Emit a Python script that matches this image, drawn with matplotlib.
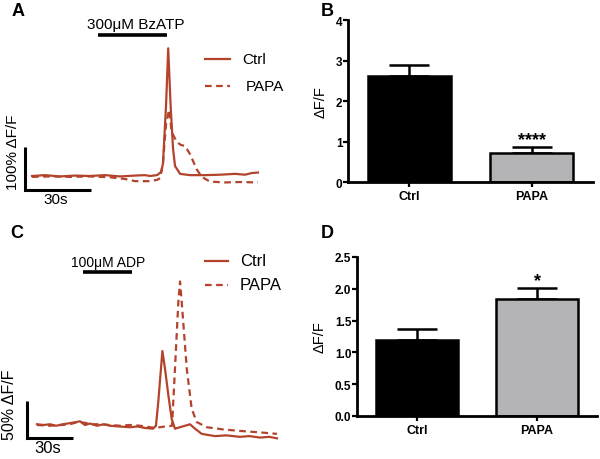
import numpy as np
import matplotlib
matplotlib.use("Agg")
import matplotlib.pyplot as plt
from matplotlib.lines import Line2D

# figure size in pixels (dpi 100)
W, H = 600, 460
TRACE = "#b4432c"

plt.rcParams["font.family"] = ["Liberation Sans", "DejaVu Sans"]

# ---- panel A: BzATP response, time (s) vs dF/F (%)
a_ctrl_t = [3.2, 9.1, 15.9, 22.7, 29.5, 36.4, 43.2, 50.0, 54.5, 56.8, 60.0, 61.8, 62.7,
            64.1, 65.1, 66.2, 67.3, 68.2, 70.5, 75.0, 81.8, 88.6, 95.5, 100.0, 103.2, 105.9]
a_ctrl_v = [0, 2, -1, 1, 0, 2, -1, 1, 2, 0, 2, 9, 28,
            163, 297, 163, 63, 23, 5, 2, 2, 3, 5, 3, 7, 8]
a_papa_t = [3.2, 11.4, 20.5, 29.5, 38.6, 45.5, 50.0, 56.8, 60.0, 61.4, 62.7, 64.1, 65.5,
            66.7, 69.0, 70.9, 72.7, 75.0, 78.0, 80.3, 84.1, 90.9, 97.7, 105.9]
a_papa_v = [-2, -1, -2, -1, -3, -7, -12, -12, -9, -5, 28, 121, 154,
            102, 79, 72, 70, 51, 16, -2, -13, -15, -14, -15]
a_stim = (33.2, 64.5)

# ---- panel C: ADP response
c_ctrl_t = [6.5, 11.0, 15.0, 19.0, 23.5, 29.4, 34.6, 37.8, 41.0, 45.7, 50.0, 54.1, 60.0, 67.2,
            72.0, 77.0, 82.2, 84.1, 85.6, 88.3, 90.0, 92.2, 94.4, 96.5, 99.8, 106.3, 109.6,
            114.0, 122.6, 130.0, 138.9, 145.0, 152.0, 158.0, 163.0]
c_ctrl_v = [1, 0, 1, -1, 1, 3, 5, 0, 2, -1, 1, -1, -2, -3,
            -2, -4, -5, -1, 31, 100, 76, 40, 8, -5, -3, 1, -5,
            -12, -15, -14, -16, -15, -17, -16, -18]
c_papa_t = [6.5, 15.0, 22.0, 28.0, 33.0, 37.8, 42.0, 47.6, 54.0, 60.7, 67.0, 73.7, 83.5,
            90.0, 94.6, 96.5, 98.7, 99.8, 100.9, 104.2, 107.4, 110.7, 117.2, 128.0, 139.0,
            152.0, 163.0]
c_papa_v = [0, -1, 0, 1, 4, 3, 1, 1, 0, -1, 0, -1, -4,
            -2, -1, 76, 166, 194, 166, 76, 22, 4, -3, -6, -8,
            -10, -12]
c_stim = (36.5, 68.5)

# ---- panels B and D: peak dF/F, mean + SEM
groups = ["Ctrl", "PAPA"]
b_mean = [2.62, 0.72]
b_sem = [0.27, 0.14]
d_mean = [1.19, 1.84]
d_sem = [0.18, 0.17]
bar_colors = ["black", "#b4b4b7"]


def px_axes(fig, x0, y0, x1, y1):
    # axes from a pixel box (origin top-left)
    return fig.add_axes([x0 / W, 1 - y1 / H, (x1 - x0) / W, (y1 - y0) / H])


def ftext(fig, x, y, s, **kw):
    fig.text(x / W, 1 - y / H, s, **kw)


def fline(fig, x0, x1, y, **kw):
    fig.add_artist(Line2D([x0 / W, x1 / W], [1 - y / H, 1 - y / H],
                          transform=fig.transFigure, **kw))


def trace_panel(fig, box, org, scale, ctrl, papa, stim, stim_y, bar_v):
    # box: pixel box, org: pixel of (t=0, v=0), scale: px per s and px per %
    x0, y0, x1, y1 = box
    ax = px_axes(fig, *box)
    ax.set_xlim((x0 - org[0]) / scale[0], (x1 - org[0]) / scale[0])
    ax.set_ylim((org[1] - y1) / scale[1], (org[1] - y0) / scale[1])
    ax.axis("off")
    ax.plot(ctrl[0], ctrl[1], color=TRACE, lw=1.6, solid_joinstyle="round")
    ax.plot(papa[0], papa[1], color=TRACE, lw=1.6, dashes=(3, 2))
    # drug application bar
    ax.plot(stim, [stim_y, stim_y], color="black", lw=2.6, solid_capstyle="butt")
    # scale bar: 30 s and bar_v %
    v0 = bar_v[0]
    ax.plot([0, 0, 30], [v0 + bar_v[1], v0, v0], color="black", lw=2.2,
            solid_joinstyle="miter", solid_capstyle="butt")
    return ax


def bar_panel(fig, box, means, sems, ymax, yticks, ylabels, star):
    ax = px_axes(fig, *box)
    x = np.arange(len(groups))
    ax.bar(x, means, width=0.68, color=bar_colors, edgecolor="black", linewidth=1.8, zorder=2)
    ax.errorbar(x, means, yerr=[np.zeros(len(x)), sems], fmt="none", ecolor="black",
                elinewidth=1.8, capsize=14.5, capthick=1.8, zorder=1)
    ax.set_xlim(-0.5, 1.5)
    ax.set_ylim(0, ymax)
    ax.set_yticks(yticks)
    ax.set_yticklabels(ylabels, fontsize=8.5, fontweight="bold")
    ax.set_xticks(x)
    ax.set_xticklabels(groups, fontsize=9, fontweight="bold")
    for s in ["top", "right"]:
        ax.spines[s].set_visible(False)
    for s in ["left", "bottom"]:
        ax.spines[s].set_linewidth(2)
    ax.tick_params(axis="y", direction="out", length=3.5, width=1.6, pad=0.5)
    ax.tick_params(axis="x", direction="out", length=3.5, width=1.6, pad=2)
    ax.set_ylabel("\u0394F/F", fontsize=10.5, labelpad=6)
    ax.annotate(star, xy=(1, means[1] + sems[1]), xytext=(0, 2.5),
                textcoords="offset points", ha="center", va="baseline",
                fontsize=13, fontweight="bold")
    return ax


fig = plt.figure(figsize=(W / 100, H / 100), dpi=100)
fig.patch.set_facecolor("white")

# ---- A
trace_panel(fig, (0, 0, 300, 228), (25, 177), (2.2, 0.43),
            (a_ctrl_t, a_ctrl_v), (a_papa_t, a_papa_v), a_stim, 328, (-32, 100))
ftext(fig, 135.5, 25, "300\u03bcM BzATP", fontsize=11, ha="center", va="center")
fline(fig, 205, 230, 60, color=TRACE, lw=1.6)
fline(fig, 205, 230, 87, color=TRACE, lw=1.6, dashes=(3, 2))
ftext(fig, 242, 60, "Ctrl", fontsize=11, ha="left", va="center")
ftext(fig, 246, 87, "PAPA", fontsize=11, ha="left", va="center")
ftext(fig, 55.5, 200, "30s", fontsize=11, ha="center", va="center")
ftext(fig, 13, 152.5, "100% \u0394F/F", fontsize=11, ha="center", va="center", rotation=90)

# ---- C
trace_panel(fig, (0, 230, 300, 460), (27, 426), (46 / 30, 0.74),
            (c_ctrl_t, c_ctrl_v), (c_papa_t, c_papa_v), c_stim, 207, (-18, 50))
ftext(fig, 108, 263.5, "100\u03bcM ADP", fontsize=10, ha="center", va="center")
fline(fig, 205, 228, 262, color=TRACE, lw=1.6)
fline(fig, 205, 228, 286, color=TRACE, lw=1.6, dashes=(3, 2))
ftext(fig, 240, 262, "Ctrl", fontsize=12, ha="left", va="center")
ftext(fig, 240, 286, "PAPA", fontsize=12, ha="left", va="center")
ftext(fig, 47.5, 449, "30s", fontsize=12, ha="center", va="center")
ftext(fig, 10, 405, "50% \u0394F/F", fontsize=11.5, ha="center", va="center", rotation=90)

# ---- B and D
bar_panel(fig, (348, 21, 593, 183), b_mean, b_sem, 4, [0, 1, 2, 3, 4],
          ["0", "1", "2", "3", "4"], "****")
bar_panel(fig, (357, 258, 597, 417), d_mean, d_sem, 2.5, [0, 0.5, 1.0, 1.5, 2.0, 2.5],
          ["0.0", "0.5", "1.0", "1.5", "2.0", "2.5"], "*")

# panel letters
for lab, x, y in [("A", 18, 12), ("B", 327, 12), ("C", 17, 233.5), ("D", 327, 233.5)]:
    ftext(fig, x, y, lab, fontsize=13, fontweight="bold", ha="center", va="center")

fig.savefig("out.png", dpi=100, facecolor="white")
